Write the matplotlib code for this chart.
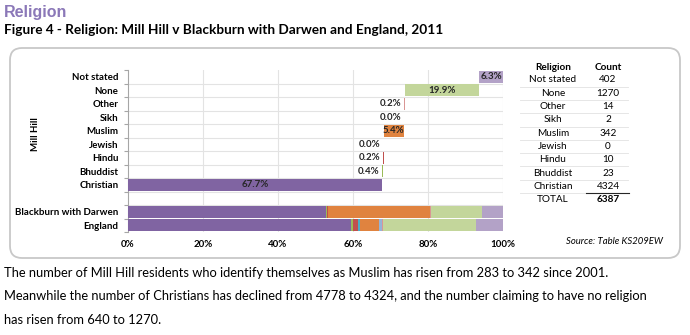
import numpy as np
import matplotlib
matplotlib.use("Agg")
import matplotlib.pyplot as plt
from matplotlib.patches import FancyBboxPatch

plt.rcParams['font.family'] = ['Lato', 'DejaVu Sans']

# Mill Hill counts, in stacking order (Christian first)
religions = ['Christian', 'Bhuddist', 'Hindu', 'Jewish', 'Muslim', 'Sikh',
             'Other', 'None', 'Not stated']
mill_hill_counts = [4324, 23, 10, 0, 342, 2, 14, 1270, 402]

# comparison areas, percentages in the same order
blackburn_pct = [52.8, 0.2, 0.3, 0.0, 27.1, 0.1, 0.2, 13.7, 5.6]
england_pct = [59.4, 0.5, 1.5, 0.5, 5.0, 0.8, 0.4, 24.7, 7.2]
area_names = ['Blackburn with Darwen', 'England']

x_ticks = [0, 20, 40, 60, 80, 100]

colors = ['#8064A2', '#9BBB59', '#C0504D', '#4BACC6', '#E0833F',
          '#95B3D7', '#D99694', '#C3D69B', '#B3A2C7']

W, H = 690, 335
fig = plt.figure(figsize=(W / 100, H / 100), dpi=100)


def fx(x):
    return x / W


def fy(y):
    return 1 - y / H


# headings
fig.text(fx(4), fy(12), 'Religion', fontsize=11.5, fontweight='bold',
         color='#8B78B8', family='Liberation Sans', va='center')
fig.text(fx(4), fy(30), 'Figure 4 - Religion: Mill Hill v Blackburn with Darwen and England, 2011',
         fontsize=9.8, fontweight='bold', va='center')

# rounded frame around the chart
frame = FancyBboxPatch((0.10, 0.77), 6.70, 2.10,
                       boxstyle='round,pad=0,rounding_size=0.12',
                       transform=fig.dpi_scale_trans, fill=False,
                       edgecolor='#C8C8C8', linewidth=1.3)
fig.patches.append(frame)

ax = fig.add_axes([fx(128), fy(232), fx(503) - fx(128), fy(70) - fy(232)])

total = sum(mill_hill_counts)
mh_pct = np.array(mill_hill_counts) / total * 100
mh_left = np.concatenate([[0], np.cumsum(mh_pct)[:-1]])

# rows top to bottom: Mill Hill categories reversed, a gap, then the areas
n_mh = len(religions)
mh_rows = [n_mh - 1 - i for i in range(n_mh)]
row_labels = religions[::-1] + [''] + area_names
bar_h = 0.9

for i, name in enumerate(religions):
    y = mh_rows[i]
    ax.barh(y, mh_pct[i], left=mh_left[i], height=bar_h, color=colors[i],
            edgecolor='none', zorder=3)
    label = f'{mh_pct[i]:.1f}%'
    if mh_pct[i] >= 3:
        ax.text(mh_left[i] + mh_pct[i] / 2, y, label, ha='center', va='center',
                fontsize=7, fontweight='bold', color='#262626', zorder=4)
    else:
        ax.text(mh_left[i] - 0.8, y, label, ha='right', va='center',
                fontsize=7, fontweight='bold', color='#262626', zorder=4)

for j, vals in enumerate([blackburn_pct, england_pct]):
    y = n_mh + 1 + j
    left = 0
    for i, v in enumerate(vals):
        ax.barh(y, v, left=left, height=0.92, color=colors[i],
                edgecolor='none', zorder=3)
        left += v

n_rows = len(row_labels)
ax.set_ylim(n_rows - 0.5, -0.5)
ax.set_xlim(0, 100)
ax.set_yticks(range(n_rows))
ax.set_yticklabels(row_labels, fontsize=7, fontweight='bold')
ax.set_yticks(np.arange(n_rows + 1) - 0.5, minor=True)
ax.tick_params(axis='y', which='major', length=0, pad=7)
ax.tick_params(axis='y', which='minor', length=3, color='#A6A6A6', width=0.8)
ax.set_xticks(x_ticks)
ax.set_xticklabels([f'{t}%' for t in x_ticks], fontsize=7, fontweight='bold')
ax.tick_params(axis='x', length=0, pad=6)

for b in np.arange(1, n_rows) - 0.5:
    ax.axhline(b, color='#E3E3E3', linewidth=0.8, zorder=1)
for t in x_ticks[1:]:
    ax.axvline(t, color='#E3E3E3', linewidth=0.8, zorder=1)

for side in ['top', 'right', 'bottom']:
    ax.spines[side].set_visible(False)
ax.spines['left'].set_color('#A6A6A6')
ax.spines['left'].set_linewidth(0.8)

fig.text(fx(35), fy(134), 'Mill Hill', rotation=90, fontsize=7,
         fontweight='bold', ha='center', va='center')

# count table on the right
col1, col2 = fx(553), fx(608)
fig.text(col1, fy(67), 'Religion', fontsize=7.2, fontweight='bold', ha='center', va='center')
fig.text(col2, fy(67), 'Count', fontsize=7.2, fontweight='bold', ha='center', va='center')
table_names = religions[::-1]
table_counts = mill_hill_counts[::-1]
row_y = 80
row_step = 13.3
for k, (name, cnt) in enumerate(zip(table_names, table_counts)):
    yy = row_y + k * row_step
    fig.text(col1, fy(yy), name, fontsize=7.2, ha='center', va='center')
    fig.text(col2, fy(yy), str(cnt), fontsize=7.2, ha='center', va='center')
    fig.add_artist(plt.Line2D([fx(520), fx(628)], [fy(yy + 6.6)] * 2,
                              color='#E6E6E6', linewidth=0.7))
yy = row_y + len(table_names) * row_step
fig.add_artist(plt.Line2D([fx(586), fx(629)], [fy(yy - 6.6)] * 2,
                          color='#262626', linewidth=0.8))
fig.text(col1, fy(yy), 'TOTAL', fontsize=7.2, ha='center', va='center')
fig.text(col2, fy(yy), str(total), fontsize=7.2, fontweight='bold', ha='center', va='center')

fig.text(fx(566), fy(241), 'Source: Table KS209EW', fontsize=6.8,
         style='italic', va='center')

# commentary below the chart
lines = [
    'The number of Mill Hill residents who identify themselves as Muslim has risen from 283 to 342 since 2001.',
    'Meanwhile the number of Christians has declined from 4778 to 4324, and the number claiming to have no religion',
    'has risen from 640 to 1270.',
]
for k, line in enumerate(lines):
    fig.text(fx(4), fy(273 + k * 23.5), line, fontsize=9.3, va='center')

fig.savefig('out.png', dpi=100)
